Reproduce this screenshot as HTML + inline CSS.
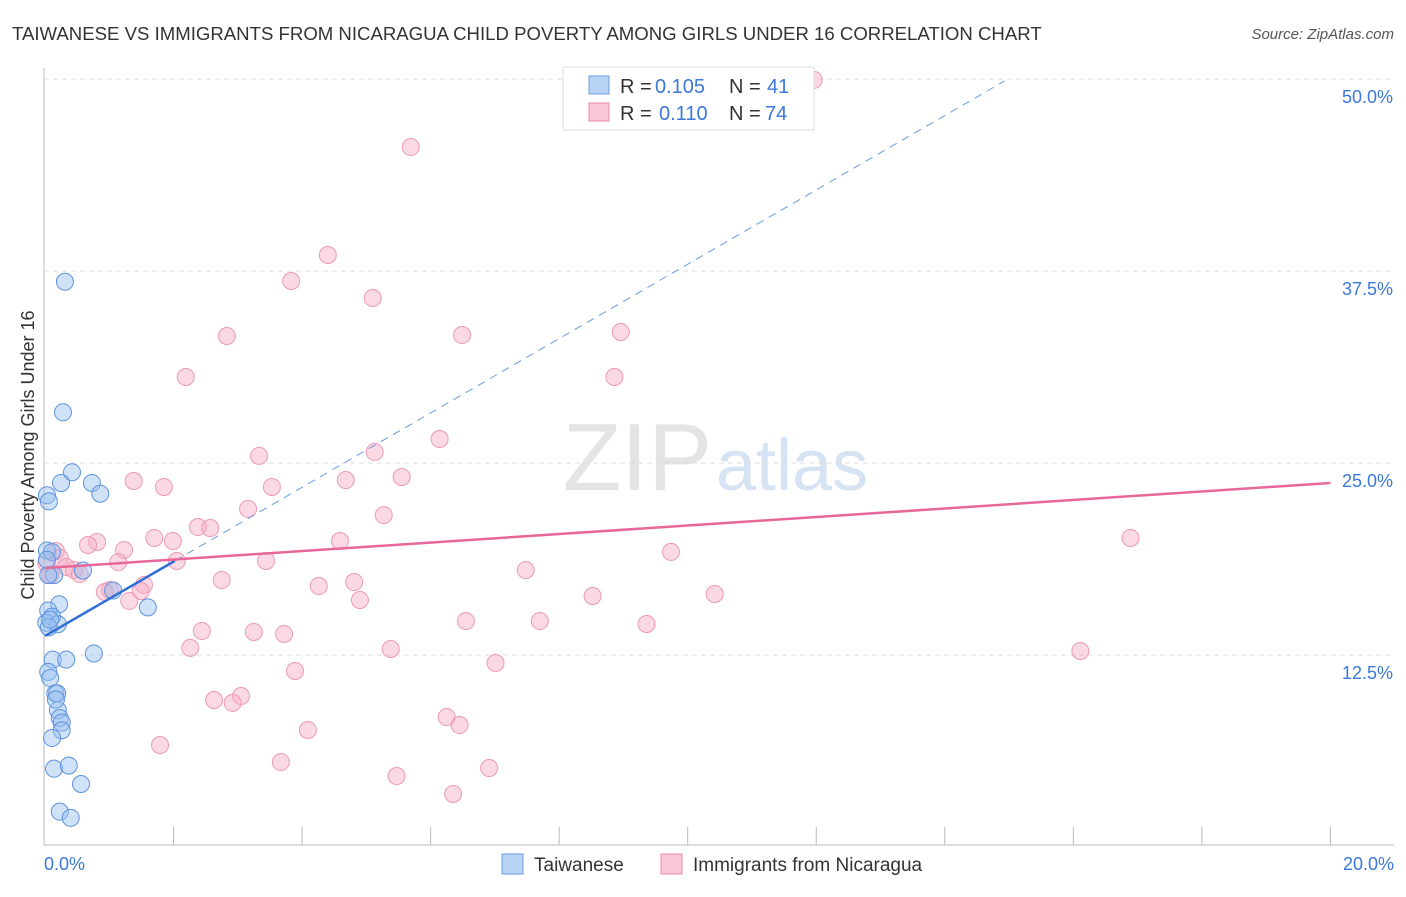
<!DOCTYPE html>
<html><head><meta charset="utf-8"><style>
body{margin:0;background:#fff;font-family:"Liberation Sans",sans-serif}
svg text{font-family:"Liberation Sans",sans-serif}
</style></head><body>
<svg id="c" width="1406" height="892">
<text x="12" y="40" font-size="18.6" fill="#333">TAIWANESE VS IMMIGRANTS FROM NICARAGUA CHILD POVERTY AMONG GIRLS UNDER 16 CORRELATION CHART</text>
<text x="1394" y="39" font-size="15" fill="#555" font-style="italic" text-anchor="end">Source: ZipAtlas.com</text>
<text x="712" y="490" font-size="96" fill="#e4e4e4" text-anchor="end" font-family="Liberation Serif">ZIP</text>
<text x="716" y="490" font-size="72" fill="#d6e3f3">atlas</text>
<text transform="translate(34,455) rotate(-90)" font-size="18" fill="#333" text-anchor="middle">Child Poverty Among Girls Under 16</text>
<g id="grid"></g><g id="pts"></g><g id="lines"></g>
<g>
<rect x="563" y="67" width="251" height="63" fill="#fff" stroke="#ddd"/>
<rect x="589" y="76" width="20" height="18" fill="#b9d3f5" stroke="#6a9be0"/>
<rect x="589" y="103" width="20" height="18" fill="#f9c6d6" stroke="#e88aa8"/>
<text x="620" y="93" font-size="20" fill="#333">R =</text>
<text x="655" y="93" font-size="20" fill="#3b78d8">0.105</text>
<text x="729" y="93" font-size="20" fill="#333">N =</text>
<text x="767" y="93" font-size="20" fill="#3b78d8">41</text>
<text x="620" y="120" font-size="20" fill="#333">R =</text>
<text x="659" y="120" font-size="20" fill="#3b78d8">0.110</text>
<text x="729" y="120" font-size="20" fill="#333">N =</text>
<text x="765" y="120" font-size="20" fill="#3b78d8">74</text>
</g>
<g>
<rect x="502" y="854" width="21" height="20" fill="#b9d3f5" stroke="#6a9be0"/>
<text x="534" y="871" font-size="19" fill="#333">Taiwanese</text>
<rect x="661" y="854" width="21" height="20" fill="#f9c6d6" stroke="#e88aa8"/>
<text x="693" y="871" font-size="19" fill="#333">Immigrants from Nicaragua</text>
</g>
</svg>
<script>
const yTicks=[12.5,25,37.5,50];
const yTickLabels=["12.5%","25.0%","37.5%","50.0%"];
const xTicks=[0,2,4,6,8,10,12,14,16,18,20];
const blueX=[.31,.28,.42,.25,.73,.86,.03,.06,.03,.11,.14,.59,1.06,1.60,.22,.05,.11,.02,.20,.06,.12,.33,.76,.05,.08,.16,.19,.20,.23,.26,.26,.11,.14,.37,.56,.23,.40,.05,.08,.17,.03];
const blueY=[36.8,28.3,24.4,23.7,23.7,23.0,22.9,22.5,19.3,19.2,17.7,18.0,16.7,15.6,15.8,15.4,15.0,14.6,14.5,14.3,12.2,12.2,12.6,11.4,11.0,10.0,10.0,8.9,8.4,8.1,7.6,7.1,5.1,5.3,4.1,2.3,1.9,17.7,14.8,9.6,18.7];
const pinkX=[11.96,5.69,4.40,3.83,5.10,2.83,6.49,8.96,2.19,8.86,6.14,5.13,3.33,1.38,1.85,5.55,4.68,3.53,3.16,5.27,2.38,2.57,1.70,1.99,.81,.67,4.59,16.89,9.74,1.23,.17,.23,2.05,3.44,1.14,.02,.33,.45,.54,7.48,2.75,4.81,4.26,1.54,1.01,.93,1.49,1.31,4.90,8.52,10.42,6.55,7.70,9.36,2.44,3.25,3.72,2.26,5.38,16.11,7.01,3.89,3.05,2.63,2.92,6.25,6.45,4.09,1.79,3.67,5.47,6.91,6.35,.08];
const pinkY=[49.94,45.57,38.54,36.85,35.74,33.27,33.33,33.53,30.60,30.60,26.56,25.72,25.46,23.83,23.44,24.09,23.89,23.44,22.01,21.61,20.83,20.77,20.12,19.92,19.86,19.66,19.92,20.12,19.21,19.34,19.27,18.82,18.62,18.62,18.55,18.49,18.23,18.03,17.77,18.03,17.38,17.25,16.99,17.06,16.73,16.60,16.67,16.02,16.08,16.34,16.47,14.71,14.71,14.52,14.06,14.00,13.87,12.96,12.89,12.76,11.98,11.46,9.83,9.57,9.38,8.46,7.94,7.62,6.64,5.53,4.62,5.14,3.45,17.71];
const blueFit=[13.74,2.42];
const pinkFit=[18.16,0.277];
const NS="http://www.w3.org/2000/svg";
const X=v=>45+v*64.27, Y=v=>847-v*15.36;
function mk(p,t,a){const e=document.createElementNS(NS,t);for(const k in a)e.setAttribute(k,a[k]);p.appendChild(e);return e;}
const grid=document.getElementById('grid');
let ax=mk(grid,'line',{x1:44,y1:68,x2:44,y2:845,stroke:'#bbb'});


let bx=mk(grid,'line',{x1:44,y1:845,x2:1394,y2:845,stroke:'#bbb'});


yTicks.forEach((t,i)=>{
 const g=mk(grid,'line',{x1:44,x2:1394,y1:Y(t),y2:Y(t),stroke:'#ddd','stroke-dasharray':'5,4'});
 
 
 const l=mk(grid,'text',{x:1393,y:Y(t)+24,'font-size':18,fill:'#3b78d8','text-anchor':'end'});
 l.textContent=yTickLabels[i];
 
 
});
xTicks.slice(1).forEach(t=>{
 const g=mk(grid,'line',{x1:X(t),x2:X(t),y1:827,y2:845,stroke:'#bbb'});
 
 
});
let x0=mk(grid,'text',{x:44,y:870,'font-size':18,fill:'#3b78d8'});x0.textContent='0.0%';


let x1=mk(grid,'text',{x:1394,y:870,'font-size':18,fill:'#3b78d8','text-anchor':'end'});x1.textContent='20.0%';


const pts=document.getElementById('pts');
pinkX.forEach((v,i)=>{const c=mk(pts,'circle',{cx:X(v),cy:Y(pinkY[i]),r:8.5,fill:'rgba(246,170,195,0.45)',stroke:'#eb9ab4','stroke-width':1});

});
blueX.forEach((v,i)=>{const c=mk(pts,'circle',{cx:X(v),cy:Y(blueY[i]),r:8.5,fill:'rgba(150,190,240,0.45)',stroke:'#5d93dd','stroke-width':1});

});
const ln=document.getElementById('lines');
let d=mk(ln,'line',{x1:X(2.02),y1:Y(blueFit[0]+blueFit[1]*2.02),x2:X(14.93),y2:Y(blueFit[0]+blueFit[1]*14.93),stroke:'#6a9be0','stroke-width':1,'stroke-dasharray':'8,6'});


let b=mk(ln,'line',{x1:X(0),y1:Y(blueFit[0]),x2:X(2.02),y2:Y(blueFit[0]+blueFit[1]*2.02),stroke:'#2f6fd6','stroke-width':2.5});


let p=mk(ln,'line',{x1:X(0),y1:Y(pinkFit[0]),x2:X(20),y2:Y(pinkFit[0]+pinkFit[1]*20),stroke:'#e8679a','stroke-width':2.5});


</script>
</body></html>
